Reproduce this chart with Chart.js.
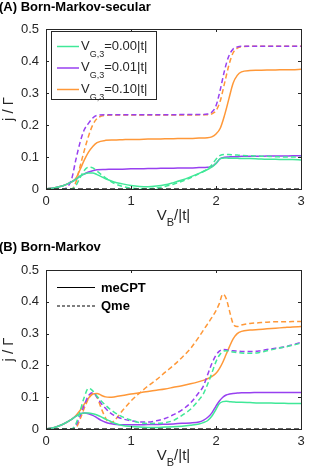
<!DOCTYPE html>
<html>
<head>
<meta charset="utf-8">
<script src="https://cdn.jsdelivr.net/npm/chart.js@4.4.1/dist/chart.umd.min.js"></script>
<style>
  body { margin:0; background:#fff; }
  #wrap { width:332px; height:473px; position:relative; }
  canvas { display:block; }
</style>
</head>
<body>
<div id="wrap">
  <canvas id="chartA" width="332" height="236"></canvas>
  <canvas id="chartB" width="332" height="237"></canvas>
</div>
<script>
// ---- data ----
const xTicks=[0,1,2,3];
const yTicks=[0,0.1,0.2,0.3,0.4,0.5];
const gateLabels=["0.00","0.01","0.10"];

// panel A : Born-Markov-secular
const xA=[0,.1,.2,.3,.35,.4,.45,.5,.55,.6,.7,.8,.9,1.0,1.1,1.2,1.3,1.4,1.5,1.6,1.7,1.8,1.9,1.95,2.0,2.05,2.1,2.15,2.2,2.25,2.3,2.4,2.5,2.6,2.7,2.8,2.9,3.0];
const greenSolidA=[0,.004,.01,.022,.03,.04,.047,.05,.05,.045,.032,.022,.016,.011,.008,.007,.009,.013,.02,.028,.038,.049,.061,.068,.08,.095,.097,.096,.096,.096,.095,.095,.094,.093,.093,.092,.092,.091];
const greenDashA=[0,0,0,0,.01,.035,.058,.068,.066,.056,.035,.018,.008,.003,.001,.001,.003,.008,.015,.024,.035,.048,.063,.075,.093,.105,.108,.108,.107,.106,.105,.104,.103,.102,.101,.1,.1,.099];
const purpleSolidA=[0,.004,.01,.022,.03,.04,.047,.053,.057,.06,.061,.062,.062,.063,.063,.064,.064,.065,.065,.066,.066,.067,.068,.07,.08,.095,.099,.1,.101,.101,.102,.102,.102,.103,.103,.103,.104,.104];
const purpleDashA=[0,0,0,.03,.09,.145,.185,.205,.222,.23,.232,.232,.232,.232,.232,.232,.232,.232,.232,.233,.233,.233,.234,.24,.26,.31,.37,.415,.437,.444,.446,.446,.446,.446,.446,.446,.446,.446];
const orangeSolidA=[0,.004,.01,.022,.033,.06,.09,.115,.133,.145,.152,.153,.154,.155,.155,.156,.156,.157,.157,.158,.158,.159,.16,.163,.172,.19,.23,.28,.33,.355,.366,.37,.371,.372,.372,.373,.373,.374];
const orangeDashA=[0,0,0,0,.02,.07,.12,.165,.2,.22,.23,.231,.231,.231,.231,.231,.231,.231,.231,.231,.231,.232,.232,.235,.245,.275,.33,.385,.425,.44,.445,.446,.446,.446,.446,.446,.446,.446];

// panel B : Born-Markov
const xB=[0,.1,.2,.3,.35,.4,.45,.5,.55,.6,.65,.7,.75,.8,.9,1.0,1.1,1.2,1.3,1.4,1.5,1.6,1.7,1.8,1.85,1.9,1.95,2.0,2.04,2.08,2.12,2.16,2.2,2.25,2.3,2.4,2.5,2.6,2.7,2.8,2.9,3.0];
const greenSolidB=[0,.005,.015,.03,.04,.047,.05,.05,.048,.044,.038,.031,.025,.019,.011,.008,.006,.005,.005,.006,.007,.009,.012,.016,.02,.026,.04,.062,.08,.086,.087,.086,.085,.084,.084,.083,.082,.082,.081,.081,.08,.08];
const greenDashB=[0,0,0,0,.015,.055,.1,.128,.12,.103,.088,.075,.063,.053,.038,.028,.02,.017,.018,.02,.027,.043,.062,.092,.11,.14,.175,.212,.232,.244,.246,.244,.242,.24,.239,.238,.24,.246,.252,.257,.263,.27];
const purpleSolidB=[0,.005,.015,.03,.04,.047,.05,.048,.043,.035,.027,.021,.017,.015,.013,.013,.013,.014,.014,.015,.016,.018,.019,.022,.027,.036,.05,.072,.088,.1,.107,.11,.112,.113,.114,.114,.115,.115,.115,.115,.115,.115];
const purpleDashB=[0,0,0,0,.01,.04,.075,.105,.115,.1,.08,.065,.052,.043,.032,.026,.022,.022,.026,.033,.045,.06,.082,.115,.134,.17,.205,.232,.245,.25,.249,.247,.246,.245,.244,.244,.245,.25,.254,.258,.265,.272];
const orangeSolidB=[0,.005,.015,.03,.042,.058,.078,.097,.11,.112,.106,.101,.1,.101,.105,.11,.114,.118,.122,.126,.131,.136,.142,.149,.153,.158,.165,.175,.19,.21,.235,.26,.283,.3,.307,.311,.313,.315,.317,.319,.321,.322];
const orangeDashB=[0,0,0,0,.003,.03,.065,.095,.112,.1,.065,.035,.018,.025,.058,.088,.113,.135,.155,.178,.2,.225,.253,.29,.31,.33,.35,.372,.395,.424,.41,.37,.332,.322,.327,.332,.334,.336,.337,.337,.338,.338];

// dummy reference curves (black, at zero) used for the legend of panel B
const zeroX=[0,3];
const zeroY=[0,0];

const GREEN="rgb(64,232,152)";
const PURPLE="rgb(152,64,240)";
const ORANGE="rgb(255,152,56)";
const AXIS="#262626";
const FONT="'Liberation Sans', Arial, Helvetica, sans-serif";

function pts(xs,ys){ return xs.map((x,i)=>({x:x,y:ys[i]})); }

function curve(xs,ys,color,dashed){
    return {
        data: pts(xs,ys),
        borderColor: color,
        borderWidth: 1.5,
        borderDash: dashed ? [5,3] : [],
        pointRadius: 0,
        fill: false,
        cubicInterpolationMode: "monotone"
    };
}

// draws a string with a subscript, returns end x
function subText(ctx,x,y,main,sub,rest,size,subSize,drop,bold){
    const w = bold ? "bold " : "";
    ctx.font = w+size+"px "+FONT;
    ctx.fillText(main,x,y); x+=ctx.measureText(main).width;
    ctx.font = w+subSize+"px "+FONT;
    ctx.fillText(sub,x,y+drop); x+=ctx.measureText(sub).width;
    ctx.font = w+size+"px "+FONT;
    ctx.fillText(rest,x,y); x+=ctx.measureText(rest).width;
    return x;
}

// box, inner ticks, axis titles, panel title and legend
function decorPlugin(title,legendFn){
    return {
        id: "decor",
        afterDraw(chart){
            const ctx=chart.ctx, a=chart.chartArea;
            const xs=chart.scales.x, ys=chart.scales.y;
            ctx.save();
            ctx.strokeStyle=AXIS; ctx.lineWidth=1; ctx.setLineDash([]);
            ctx.strokeRect(Math.round(a.left)+.5,Math.round(a.top)+.5,Math.round(a.right-a.left),Math.round(a.bottom-a.top));
            ctx.beginPath();
            xTicks.forEach(t=>{
                const px=Math.round(xs.getPixelForValue(t))+.5;
                ctx.moveTo(px,a.bottom); ctx.lineTo(px,a.bottom-3);
                ctx.moveTo(px,a.top); ctx.lineTo(px,a.top+3);
            });
            yTicks.forEach(t=>{
                const py=Math.round(ys.getPixelForValue(t))+.5;
                ctx.moveTo(a.left,py); ctx.lineTo(a.left+3,py);
                ctx.moveTo(a.right,py); ctx.lineTo(a.right-3,py);
            });
            ctx.stroke();

            ctx.fillStyle=AXIS;
            ctx.textBaseline="alphabetic";
            // x title  V_B/|t|
            ctx.font="15px "+FONT;
            let wV=ctx.measureText("V").width, wR=ctx.measureText("/|t|").width;
            ctx.font="11px "+FONT;
            let wS=ctx.measureText("B").width;
            let cx=(a.left+a.right)/2;
            subText(ctx,cx-(wV+wS+wR)/2,a.bottom+31,"V","B","/|t|",15,11,6,false);
            // y title
            ctx.save();
            ctx.translate(13,(a.top+a.bottom)/2);
            ctx.rotate(-Math.PI/2);
            ctx.textAlign="center";
            ctx.font="15px "+FONT;
            ctx.fillText("j / \u0393",0,0);
            ctx.restore();
            // panel title
            ctx.fillStyle="#000";
            ctx.font="bold 13px "+FONT;
            ctx.textAlign="left";
            ctx.fillText(title.text,-1,title.y);
            legendFn(ctx);
            ctx.restore();
        }
    };
}

function legendA(ctx){
    ctx.fillStyle="#fff";
    ctx.fillRect(52,32,104,68);
    ctx.strokeStyle=AXIS; ctx.lineWidth=1;
    ctx.strokeRect(51.5,31.5,105,68);
    const colors=[GREEN,PURPLE,ORANGE];
    const rows=[46.5,68,89.5];
    rows.forEach((y,i)=>{
        ctx.strokeStyle=colors[i]; ctx.lineWidth=1.5;
        ctx.beginPath(); ctx.moveTo(57,y); ctx.lineTo(79,y); ctx.stroke();
        ctx.fillStyle=AXIS;
        subText(ctx,81,y+3,"V","G,3","="+gateLabels[i]+"|t|",13,9,7,false);
    });
}

function legendB(ctx){
    ctx.strokeStyle="#000"; ctx.lineWidth=1.2;
    ctx.beginPath(); ctx.moveTo(57,51.5); ctx.lineTo(95,51.5); ctx.stroke();
    ctx.setLineDash([3,2]);
    ctx.beginPath(); ctx.moveTo(57,70); ctx.lineTo(95,70); ctx.stroke();
    ctx.setLineDash([]);
    ctx.fillStyle="#000";
    ctx.font="bold 13px "+FONT;
    ctx.fillText("meCPT",101,56);
    ctx.fillText("Qme",101,74);
}

function makeChart(id,datasets,pad,xAxisH,title,legendFn){
    const ctx=document.getElementById(id).getContext("2d");
    return new Chart(ctx,{
        type:"line",
        data:{datasets:datasets},
        options:{
            responsive:false,
            animation:false,
            layout:{padding:{top:pad.top,right:pad.right,left:0,bottom:0}},
            plugins:{legend:{display:false},tooltip:{enabled:false}},
            scales:{
                x:{
                    type:"linear",min:0,max:3,
                    afterBuildTicks:s=>{ s.ticks=xTicks.map(v=>({value:v})); },
                    afterFit:s=>{ s.height=xAxisH; },
                    ticks:{color:AXIS,font:{size:13,family:FONT},padding:5,maxRotation:0},
                    grid:{drawOnChartArea:false,drawTicks:false},
                    border:{display:false}
                },
                y:{
                    min:0,max:0.5,
                    afterBuildTicks:s=>{ s.ticks=yTicks.map(v=>({value:v})); },
                    afterFit:s=>{ s.width=46; },
                    ticks:{color:AXIS,font:{size:13,family:FONT},padding:7},
                    grid:{drawOnChartArea:false,drawTicks:false},
                    border:{display:false}
                }
            }
        },
        plugins:[decorPlugin(title,legendFn)]
    });
}

const zeroLine=curve(zeroX,zeroY,"#333",true);

makeChart("chartA",[
    zeroLine,
    curve(xA,greenSolidA,GREEN,false),
    curve(xA,greenDashA,GREEN,true),
    curve(xA,purpleSolidA,PURPLE,false),
    curve(xA,purpleDashA,PURPLE,true),
    curve(xA,orangeSolidA,ORANGE,false),
    curve(xA,orangeDashA,ORANGE,true)
],{top:29,right:31},47,{text:"(A) Born-Markov-secular",y:11},legendA);

makeChart("chartB",[
    curve(zeroX,zeroY,"#333",true),
    curve(xB,greenSolidB,GREEN,false),
    curve(xB,greenDashB,GREEN,true),
    curve(xB,purpleSolidB,PURPLE,false),
    curve(xB,purpleDashB,PURPLE,true),
    curve(xB,orangeSolidB,ORANGE,false),
    curve(xB,orangeDashB,ORANGE,true)
],{top:34,right:31},44,{text:"(B) Born-Markov",y:15},legendB);
</script>
</body>
</html>
